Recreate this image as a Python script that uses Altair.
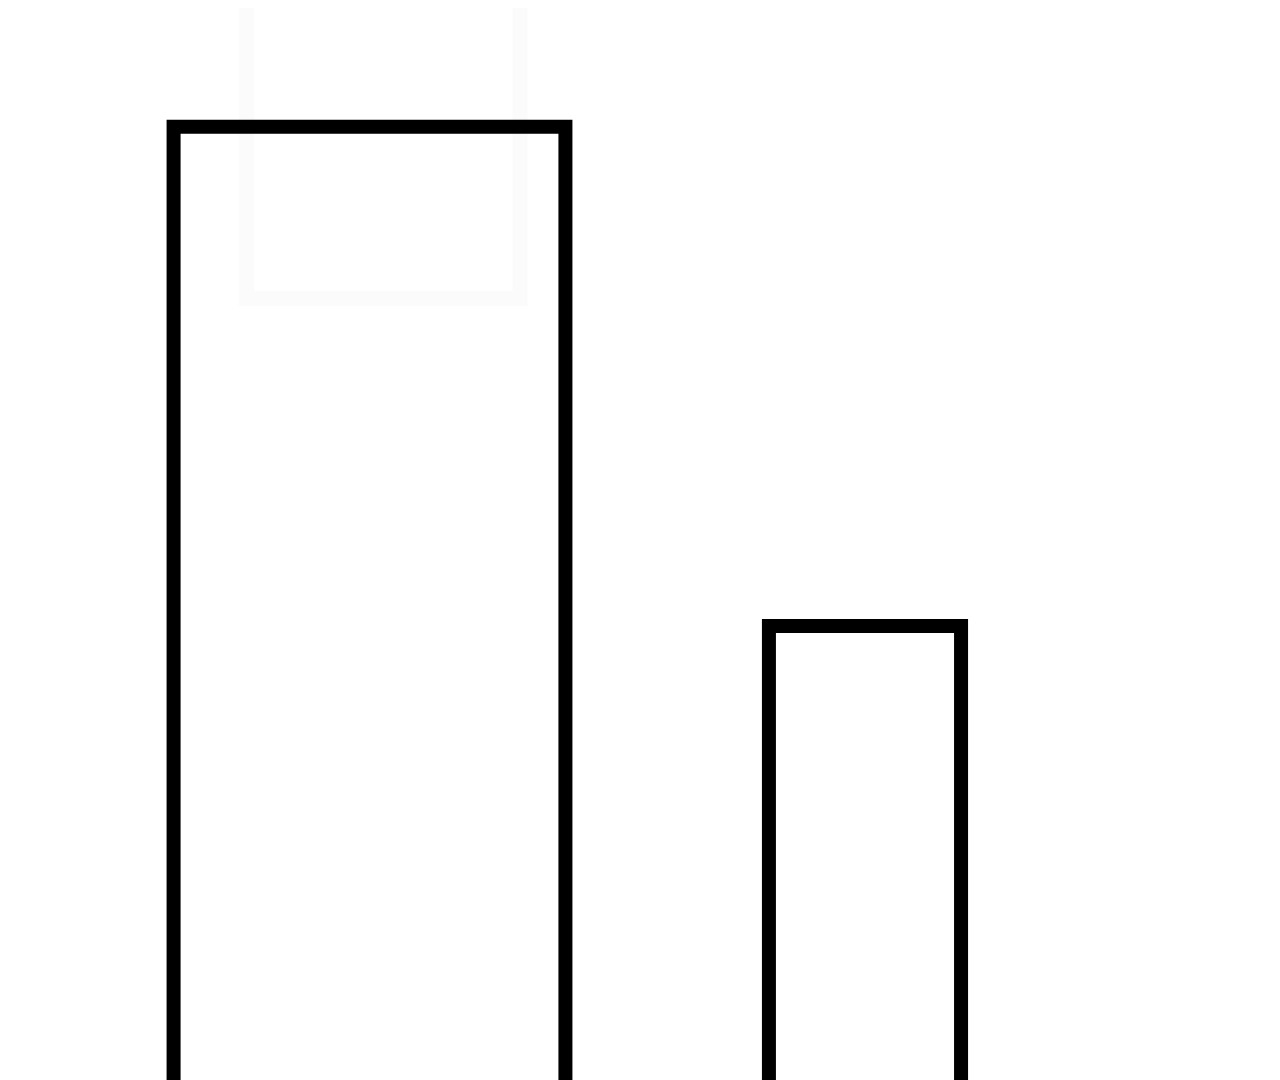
import altair as alt
import pandas as pd

# Bar extents (arbitrary x units) and heights
bar_start = [1.31, 6.02]
bar_end = [4.41, 7.54]
bar_value = [90.1, 48.5]

# Faint ghost outline behind the first bar
ghost_start = [1.89]
ghost_end = [4.05]
ghost_bottom = [75.8]
ghost_top = [106.0]

bars = pd.DataFrame({"x0": bar_start, "x1": bar_end, "y0": [0, 0], "y1": bar_value})
ghost = pd.DataFrame({"x0": ghost_start, "x1": ghost_end, "y0": ghost_bottom, "y1": ghost_top})

xs = alt.Scale(domain=[0, 10], nice=False, zero=False)
ys = alt.Scale(domain=[0, 100], nice=False, zero=False)

ghost_layer = alt.Chart(ghost).mark_rect(
    filled=False, stroke="#fbfbfb", strokeWidth=15, clip=False
).encode(
    x=alt.X("x0:Q", scale=xs, axis=None),
    x2="x1:Q",
    y=alt.Y("y0:Q", scale=ys, axis=None),
    y2="y1:Q",
)

bar_layer = alt.Chart(bars).mark_rect(
    filled=False, stroke="black", strokeWidth=14, strokeJoin="miter"
).encode(
    x=alt.X("x0:Q", scale=xs, axis=None),
    x2="x1:Q",
    y=alt.Y("y1:Q", scale=ys, axis=None),
    y2="y0:Q",
)

chart = alt.layer(ghost_layer, bar_layer).properties(
    width=1264, height=1200, padding=0, autosize=alt.AutoSizeParams(type="none"),
    background="white",
).configure_view(stroke=None)

chart.save("out.html", embed_options={"renderer": "svg", "actions": False})
